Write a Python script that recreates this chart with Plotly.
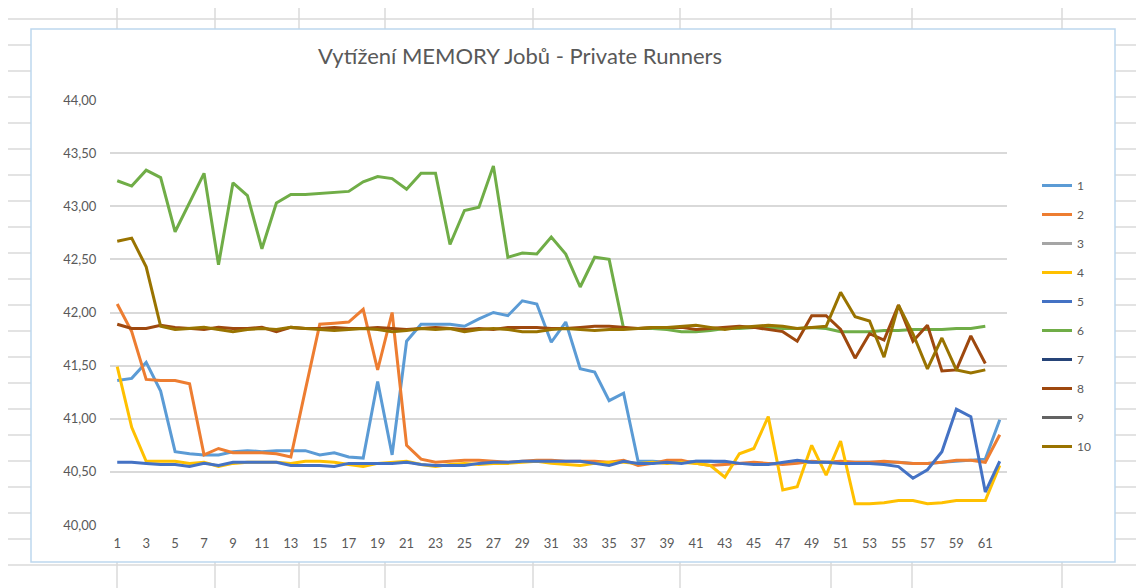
import plotly.graph_objects as go

# Vytížení MEMORY jobů (62 měření)
runs = list(range(1, 63))

runner_1 = [41.36, 41.38, 41.53, 41.26, 40.69, 40.67, 40.66, 40.66, 40.69, 40.70,
            40.69, 40.70, 40.70, 40.70, 40.66, 40.68, 40.64, 40.63, 41.35, 40.66,
            41.73, 41.89, 41.89, 41.89, 41.87, 41.94, 42.00, 41.97, 42.11, 42.08,
            41.72, 41.91, 41.47, 41.44, 41.17, 41.24, 40.60, 40.60, 40.59, 40.59,
            40.60, 40.60, 40.59, 40.58, 40.58, 40.58, 40.58, 40.59, 40.59, 40.59,
            40.59, 40.59, 40.59, 40.59, 40.59, 40.58, 40.58, 40.59, 40.60, 40.61,
            40.62, 40.99]
runner_2 = [42.08, 41.82, 41.37, 41.36, 41.36, 41.33, 40.66, 40.72, 40.68, 40.68,
            40.68, 40.67, 40.64, 41.27, 41.89, 41.90, 41.91, 42.03, 41.46, 42.00,
            40.75, 40.62, 40.59, 40.60, 40.61, 40.61, 40.60, 40.59, 40.60, 40.61,
            40.61, 40.60, 40.60, 40.60, 40.59, 40.61, 40.56, 40.58, 40.61, 40.61,
            40.58, 40.56, 40.57, 40.58, 40.59, 40.58, 40.57, 40.58, 40.60, 40.59,
            40.60, 40.59, 40.59, 40.60, 40.59, 40.58, 40.58, 40.59, 40.61, 40.61,
            40.59, 40.85]
runner_3 = [None] * 62  # v grafu není vidět
runner_4 = [41.49, 40.92, 40.60, 40.60, 40.60, 40.58, 40.59, 40.55, 40.58, 40.59,
            40.59, 40.59, 40.58, 40.60, 40.60, 40.59, 40.57, 40.55, 40.58, 40.59,
            40.60, 40.57, 40.55, 40.57, 40.58, 40.57, 40.58, 40.58, 40.59, 40.60,
            40.58, 40.57, 40.56, 40.58, 40.59, 40.59, 40.58, 40.59, 40.58, 40.59,
            40.58, 40.56, 40.45, 40.67, 40.72, 41.02, 40.33, 40.36, 40.75, 40.47,
            40.79, 40.20, 40.20, 40.21, 40.23, 40.23, 40.20, 40.21, 40.23, 40.23,
            40.23, 40.56]
runner_5 = [40.59, 40.59, 40.58, 40.57, 40.57, 40.55, 40.58, 40.56, 40.59, 40.59,
            40.59, 40.59, 40.56, 40.56, 40.56, 40.55, 40.58, 40.58, 40.58, 40.58,
            40.59, 40.57, 40.56, 40.56, 40.56, 40.58, 40.59, 40.59, 40.60, 40.60,
            40.60, 40.60, 40.60, 40.58, 40.56, 40.60, 40.58, 40.58, 40.59, 40.58,
            40.60, 40.60, 40.60, 40.58, 40.57, 40.57, 40.59, 40.61, 40.59, 40.59,
            40.58, 40.58, 40.58, 40.57, 40.55, 40.44, 40.52, 40.69, 41.09, 41.02,
            40.31, 40.60]
runner_6 = [43.24, 43.19, 43.34, 43.27, 42.76, 43.04, 43.31, 42.45, 43.22, 43.10,
            42.60, 43.03, 43.11, 43.11, 43.12, 43.13, 43.14, 43.23, 43.28, 43.26,
            43.16, 43.31, 43.31, 42.64, 42.96, 42.99, 43.38, 42.52, 42.56, 42.55,
            42.71, 42.55, 42.24, 42.52, 42.50, 41.85, 41.85, 41.85, 41.84, 41.82,
            41.82, 41.83, 41.85, 41.85, 41.86, 41.86, 41.85, 41.85, 41.86, 41.85,
            41.82, 41.82, 41.82, 41.83, 41.83, 41.84, 41.84, 41.84, 41.85, 41.85,
            41.87, None]
runner_7 = [None] * 62
runner_8 = [41.89, 41.85, 41.85, 41.88, 41.86, 41.85, 41.84, 41.86, 41.85, 41.85,
            41.86, 41.82, 41.86, 41.85, 41.85, 41.86, 41.85, 41.85, 41.86, 41.85,
            41.84, 41.85, 41.86, 41.85, 41.84, 41.85, 41.84, 41.86, 41.86, 41.86,
            41.85, 41.85, 41.86, 41.87, 41.87, 41.86, 41.85, 41.86, 41.86, 41.86,
            41.84, 41.85, 41.86, 41.87, 41.86, 41.84, 41.82, 41.73, 41.97, 41.97,
            41.84, 41.57, 41.80, 41.74, 42.07, 41.73, 41.88, 41.45, 41.46, 41.78,
            41.52, None]
runner_9 = [None] * 62
runner_10 = [42.67, 42.70, 42.43, 41.87, 41.84, 41.85, 41.86, 41.84, 41.82, 41.84,
             41.85, 41.84, 41.86, 41.85, 41.84, 41.83, 41.84, 41.85, 41.84, 41.82,
             41.83, 41.85, 41.84, 41.85, 41.82, 41.84, 41.85, 41.84, 41.82, 41.82,
             41.84, 41.85, 41.84, 41.83, 41.84, 41.84, 41.85, 41.86, 41.86, 41.87,
             41.88, 41.86, 41.84, 41.86, 41.87, 41.88, 41.87, 41.85, 41.86, 41.87,
             42.19, 41.96, 41.92, 41.58, 42.07, 41.80, 41.47, 41.76, 41.46, 41.43,
             41.46, None]

series_names = ["1", "2", "3", "4", "5", "6", "7", "8", "9", "10"]
series_values = [runner_1, runner_2, runner_3, runner_4, runner_5,
                 runner_6, runner_7, runner_8, runner_9, runner_10]
x_ticks = list(range(1, 62, 2))

# barvy Office palety
SERIES_COLORS = ["#5B9BD5", "#ED7D31", "#A5A5A5", "#FFC000", "#4472C4",
                 "#70AD47", "#264478", "#9E480E", "#636363", "#997300"]
TEXT = "#595959"
FONT = "Lato, 'Open Sans', sans-serif"

# stránka má okraj 8 px, pozice níže jsou pixely ve výsledném obrázku
OFF = 8
W, H = 1144, 588
PL, PR, PT, PB = 110 - OFF, 1007 - OFF, 100 - OFF, 525 - OFF


def fx(px):
    return (px - OFF - PL) / (PR - PL)


def fy(py):
    return (PB - (py - OFF)) / (PB - PT)


fig = go.Figure()
for i, (name, vals) in enumerate(zip(series_names, series_values)):
    fig.add_trace(go.Scatter(
        x=runs[:len(vals)],
        y=vals,
        name=name,
        mode="lines",
        line=dict(color=SERIES_COLORS[i], width=3),
        legendgroup=name,
        hovertemplate="%{x}: %{y:.2f}<extra>" + name + "</extra>",
    ))

# mřížka listu Excelu za grafem
shapes = []
for row in range(19, 600, 26):
    shapes.append(dict(type="line", xref="paper", yref="paper",
                       x0=fx(0), x1=fx(1160), y0=fy(row), y1=fy(row),
                       line=dict(color="#DADADA", width=1.5), layer="below"))
for col in [117, 215, 299, 385, 533, 680, 831, 912, 1062]:
    shapes.append(dict(type="line", xref="paper", yref="paper",
                       x0=fx(col), x1=fx(col), y0=fy(0), y1=fy(600),
                       line=dict(color="#DADADA", width=1.5), layer="below"))
# rámeček grafu
shapes.append(dict(type="rect", xref="paper", yref="paper",
                   x0=fx(31), x1=fx(1115), y0=fy(29), y1=fy(562),
                   fillcolor="white", line=dict(color="#BDD7EE", width=1.5),
                   layer="below"))

fig.update_layout(
    width=W,
    height=H,
    font=dict(family=FONT, color=TEXT, size=13),
    paper_bgcolor="white",
    plot_bgcolor="rgba(0,0,0,0)",
    margin=dict(l=PL, r=W - PR, t=PT, b=H - PB),
    separators=", ",
    title=dict(
        text="Vytížení MEMORY Jobů - Private Runners",
        font=dict(size=22, color=TEXT, family=FONT),
        x=fx(520), xref="paper", xanchor="center",
        y=1 - (56 - OFF) / H, yanchor="middle",
    ),
    xaxis=dict(
        range=[0.5, 62.5],
        tickvals=x_ticks,
        showgrid=False,
        zeroline=False,
        showline=False,
        ticks="outside", ticklen=6, tickcolor="rgba(0,0,0,0)",
        tickfont=dict(size=13, color=TEXT),
    ),
    yaxis=dict(
        range=[40, 44],
        dtick=0.5,
        tickformat=".2f",
        gridcolor="#D9D9D9",
        gridwidth=1.5,
        zeroline=False,
        showline=False,
        ticks="outside", ticklen=10, tickcolor="rgba(0,0,0,0)",
        tickfont=dict(size=13, color=TEXT),
    ),
    legend=dict(
        x=fx(1037), xanchor="left",
        y=fy(171), yanchor="top",
        traceorder="grouped",
        tracegroupgap=10,
        font=dict(size=12, color=TEXT),
        bgcolor="rgba(0,0,0,0)",
    ),
    shapes=shapes,
    showlegend=True,
)

fig.write_html("out.html")
